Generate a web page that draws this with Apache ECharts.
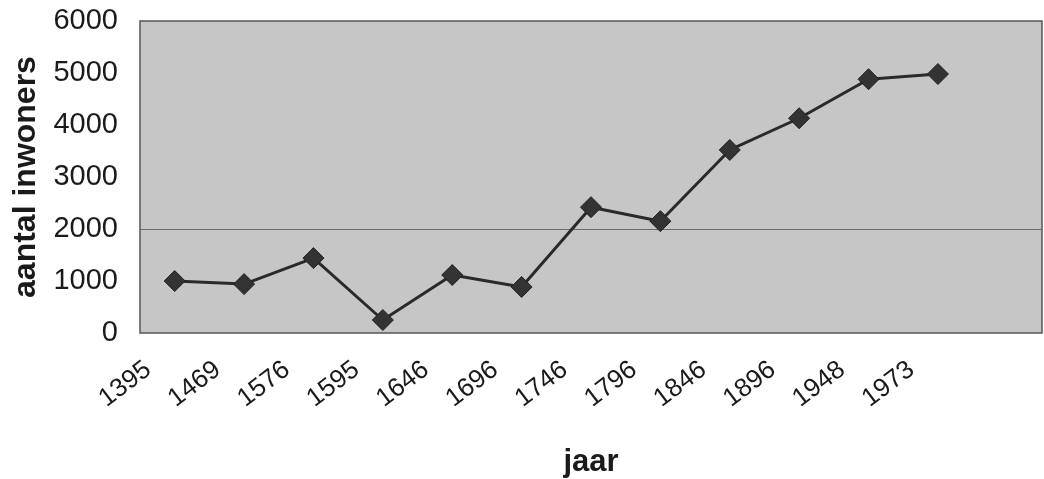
<!DOCTYPE html>
<html>
<head>
<meta charset="utf-8">
<script src="https://cdn.jsdelivr.net/npm/echarts@6/dist/echarts.min.js"></script>
<style>
  html, body { margin: 0; padding: 0; background: #fff; }
  #chart { width: 1044px; height: 479px; }
</style>
</head>
<body>
<div id="chart"></div>
<script>
// jaartallen (laatste categorie leeg, zoals in het origineel)
const years = ['1395', '1469', '1576', '1595', '1646', '1696', '1746', '1796', '1846', '1896', '1948', '1973', '']
const inwoners = [1000, 940, 1440, 250, 1115, 885, 2420, 2150, 3520, 4130, 4880, 4980, '-']
const yTicks = [0, 1000, 2000, 3000, 4000, 5000, 6000]

const chart = echarts.init(document.getElementById('chart'))
const font = 'Liberation Sans, Arial, sans-serif'

// alleen de 2000-lijn is zichtbaar
const gridColors = yTicks.map(v => v === 2000 ? '#6a6a6a' : 'rgba(0,0,0,0)')

const option = {
  animation: false,
  grid: {
    left: 140,
    right: 2,
    top: 21,
    bottom: 146,
    outerBoundsMode: 'none',
    containLabel: false,
    show: true,
    backgroundColor: '#c6c6c6',
    borderColor: '#555',
    borderWidth: 1.5
  },
  xAxis: {
    type: 'category',
    data: years,
    boundaryGap: true,
    axisLine: { show: false },
    axisTick: { show: false },
    axisLabel: {
      rotate: 37,
      margin: 14,
      padding: [0, 33, 0, 0],
      fontSize: 26,
      color: '#1a1a1a',
      fontFamily: font,
      interval: 0
    },
    name: 'jaar',
    nameLocation: 'middle',
    nameGap: 114,
    nameTextStyle: { fontSize: 31, fontWeight: 'bold', color: '#1a1a1a', fontFamily: font }
  },
  yAxis: {
    type: 'value',
    min: 0,
    max: 6000,
    interval: 1000,
    axisLine: { show: false },
    axisTick: { show: false },
    axisLabel: {
      margin: 22,
      fontSize: 29,
      color: '#1a1a1a',
      fontFamily: font,
      formatter: v => String(v)
    },
    splitLine: {
      show: true,
      lineStyle: { color: gridColors, width: 1 }
    },
    name: 'aantal inwoners',
    nameLocation: 'middle',
    nameGap: 97,
    nameTextStyle: { fontSize: 32, fontWeight: 'bold', color: '#1a1a1a', fontFamily: font }
  },
  series: [
    {
      type: 'line',
      data: inwoners,
      symbol: 'diamond',
      symbolSize: 21,
      lineStyle: { color: '#2a2a2a', width: 3 },
      itemStyle: { color: '#333333', borderColor: '#222', borderWidth: 1 }
    }
  ]
}

chart.setOption(option)
</script>
</body>
</html>
